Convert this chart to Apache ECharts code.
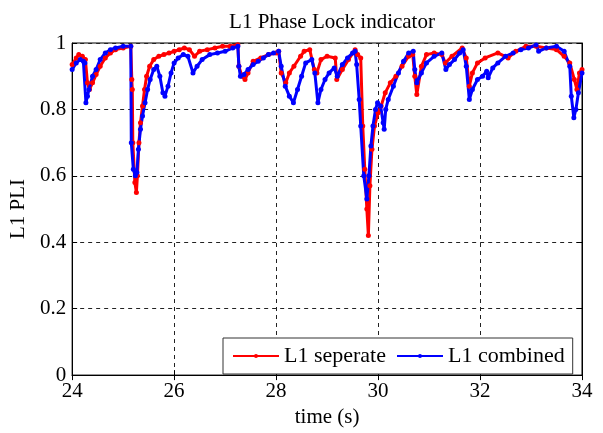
<!DOCTYPE html>
<html>
<head>
<meta charset="utf-8">
<script src="https://cdn.jsdelivr.net/npm/echarts@6/dist/echarts.min.js"></script>
<style>html,body{margin:0;padding:0;background:#fff}#chart{width:603px;height:433px}</style>
</head>
<body>
<div id="chart"></div>
<script>
var titleText = 'L1 Phase Lock indicator';
var xName = 'time (s)';
var yName = 'L1 PLI';
var seriesNames = ['L1 seperate', 'L1 combined'];

var sepTime = [24.00,24.08,24.13,24.20,24.26,24.30,24.34,24.40,24.47,24.55,24.65,24.75,24.85,25.00,25.15,25.17,25.18,25.19,25.23,25.26,25.28,25.31,25.34,25.38,25.42,25.46,25.52,25.60,25.70,25.80,25.90,26.00,26.10,26.20,26.30,26.40,26.50,26.65,26.80,26.95,27.10,27.25,27.27,27.33,27.39,27.45,27.55,27.70,27.85,28.00,28.05,28.10,28.19,28.26,28.35,28.48,28.55,28.66,28.75,28.80,28.88,29.00,29.16,29.19,29.30,29.42,29.55,29.60,29.66,29.70,29.74,29.78,29.81,29.84,29.88,29.93,30.00,30.06,30.14,30.24,30.35,30.47,30.60,30.68,30.72,30.76,30.85,30.95,31.10,31.25,31.32,31.45,31.65,31.73,31.79,31.85,31.95,32.10,32.35,32.55,32.70,32.90,33.10,33.30,33.50,33.65,33.76,33.85,33.90,33.95,34.00];
var sepPLI  = [0.935,0.955,0.965,0.96,0.95,0.88,0.86,0.88,0.905,0.93,0.955,0.97,0.98,0.985,0.99,0.89,0.86,0.70,0.58,0.55,0.60,0.70,0.76,0.81,0.86,0.90,0.93,0.95,0.96,0.965,0.97,0.975,0.98,0.985,0.98,0.96,0.975,0.98,0.985,0.99,0.99,0.995,0.93,0.90,0.89,0.91,0.945,0.955,0.965,0.97,0.975,0.91,0.88,0.91,0.93,0.96,0.975,0.98,0.92,0.91,0.95,0.96,0.955,0.89,0.92,0.95,0.98,0.965,0.955,0.75,0.62,0.50,0.42,0.57,0.68,0.75,0.79,0.81,0.85,0.88,0.90,0.93,0.96,0.965,0.90,0.845,0.93,0.965,0.97,0.965,0.94,0.96,0.985,0.955,0.87,0.91,0.94,0.955,0.97,0.955,0.975,0.99,0.99,0.985,0.98,0.96,0.94,0.89,0.86,0.91,0.92];

var combTime = [24.00,24.08,24.16,24.22,24.25,24.27,24.30,24.33,24.40,24.47,24.55,24.65,24.75,24.85,25.00,25.15,25.16,25.20,25.24,25.27,25.30,25.34,25.38,25.43,25.48,25.53,25.60,25.66,25.72,25.78,25.82,25.88,25.94,26.00,26.08,26.18,26.27,26.37,26.45,26.55,26.70,26.85,27.00,27.15,27.25,27.27,27.30,27.37,27.45,27.55,27.65,27.75,27.85,27.95,28.05,28.10,28.18,28.26,28.34,28.42,28.50,28.58,28.70,28.76,28.82,28.88,28.96,29.04,29.14,29.20,29.30,29.40,29.50,29.55,29.58,29.63,29.66,29.72,29.78,29.82,29.86,29.90,29.95,29.99,30.05,30.10,30.12,30.15,30.20,30.30,30.40,30.50,30.60,30.69,30.72,30.76,30.85,30.95,31.10,31.25,31.33,31.40,31.50,31.60,31.67,31.73,31.79,31.85,31.95,32.05,32.13,32.16,32.25,32.35,32.50,32.65,32.80,32.95,33.10,33.15,33.30,33.50,33.65,33.76,33.79,33.84,33.88,33.93,34.00];
var combPLI  = [0.92,0.94,0.95,0.945,0.94,0.82,0.84,0.86,0.90,0.92,0.95,0.97,0.98,0.985,0.99,0.99,0.70,0.62,0.60,0.61,0.68,0.74,0.78,0.82,0.86,0.89,0.92,0.93,0.90,0.85,0.84,0.87,0.91,0.94,0.955,0.965,0.96,0.91,0.93,0.95,0.965,0.97,0.975,0.985,0.99,0.93,0.90,0.905,0.92,0.935,0.945,0.955,0.965,0.97,0.975,0.93,0.87,0.84,0.82,0.86,0.90,0.94,0.95,0.91,0.82,0.86,0.89,0.91,0.925,0.90,0.935,0.955,0.97,0.975,0.935,0.83,0.75,0.60,0.53,0.60,0.69,0.75,0.80,0.82,0.81,0.76,0.74,0.80,0.83,0.87,0.91,0.945,0.97,0.975,0.92,0.88,0.91,0.94,0.96,0.97,0.92,0.935,0.95,0.97,0.98,0.93,0.83,0.86,0.89,0.90,0.915,0.895,0.925,0.94,0.96,0.97,0.98,0.985,0.994,0.975,0.985,0.99,0.975,0.93,0.84,0.775,0.80,0.85,0.91];

var xTicks = {min: 24, max: 34, step: 2};
var yTicks = {min: 0, max: 1, step: 0.2};

function pairs(t, v) { return t.map(function (x, i) { return [x, v[i]]; }); }

var FONT = 'Liberation Serif';
var chart = echarts.init(document.getElementById('chart'), null, {renderer: 'canvas'});
var axisCommon = {
  axisLine: {show: true, lineStyle: {color: '#000', width: 1}},
  axisTick: {show: true, inside: true, length: 5, lineStyle: {color: '#000'}},
  splitLine: {show: true, lineStyle: {color: '#222', type: [4, 4], width: 1}}
};
chart.setOption({
  backgroundColor: '#fff',
  animation: false,
  title: {
    text: titleText, left: 327, textAlign: 'center', top: 7,
    textStyle: {fontFamily: FONT, fontSize: 21, fontWeight: 'normal', color: '#000'}
  },
  grid: {left: 72, right: 21, top: 43, bottom: 54, show: true, borderColor: '#000', borderWidth: 1, backgroundColor: '#fff'},
  legend: {
    data: seriesNames, left: 223, top: 338,
    orient: 'horizontal', itemWidth: 46, itemHeight: 5, itemGap: 10,
    padding: [7, 8, 7, 9],
    borderColor: '#333', borderWidth: 1, backgroundColor: '#fff',
    textStyle: {fontFamily: FONT, fontSize: 22, color: '#000'}
  },
  xAxis: [
    Object.assign({}, axisCommon, {
      type: 'value', min: xTicks.min, max: xTicks.max, interval: xTicks.step,
      name: xName, nameLocation: 'middle', nameGap: 28,
      nameTextStyle: {fontFamily: FONT, fontSize: 21, color: '#000'},
      axisLabel: {fontFamily: FONT, fontSize: 21, color: '#000', margin: 6}
    }),
    {
      type: 'value', position: 'top', min: xTicks.min, max: xTicks.max, interval: xTicks.step,
      axisLine: {show: true, lineStyle: {color: '#000'}},
      axisTick: {show: true, inside: true, length: 5, lineStyle: {color: '#000'}},
      axisLabel: {show: false}, splitLine: {show: false}
    }
  ],
  yAxis: [
    Object.assign({}, axisCommon, {
      type: 'value', min: yTicks.min, max: yTicks.max, interval: yTicks.step,
      name: yName, nameLocation: 'middle', nameGap: 32, nameRotate: 90,
      nameTextStyle: {fontFamily: FONT, fontSize: 21, color: '#000'},
      axisLabel: {fontFamily: FONT, fontSize: 21, color: '#000', margin: 6}
    }),
    {
      type: 'value', position: 'right', min: yTicks.min, max: yTicks.max, interval: yTicks.step,
      axisLine: {show: true, lineStyle: {color: '#000'}},
      axisTick: {show: true, inside: true, length: 5, lineStyle: {color: '#000'}},
      axisLabel: {show: false}, splitLine: {show: false}
    }
  ],
  series: [
    {
      name: seriesNames[0], type: 'line', xAxisIndex: 0, yAxisIndex: 0,
      data: pairs(sepTime, sepPLI),
      symbol: 'circle', symbolSize: 5, showAllSymbol: true,
      lineStyle: {color: '#ff0000', width: 3},
      itemStyle: {color: '#ff0000'}
    },
    {
      name: seriesNames[1], type: 'line', xAxisIndex: 0, yAxisIndex: 0,
      data: pairs(combTime, combPLI),
      symbol: 'circle', symbolSize: 5, showAllSymbol: true,
      lineStyle: {color: '#0000ff', width: 3},
      itemStyle: {color: '#0000ff'}
    }
  ]
});
</script>
</body>
</html>
